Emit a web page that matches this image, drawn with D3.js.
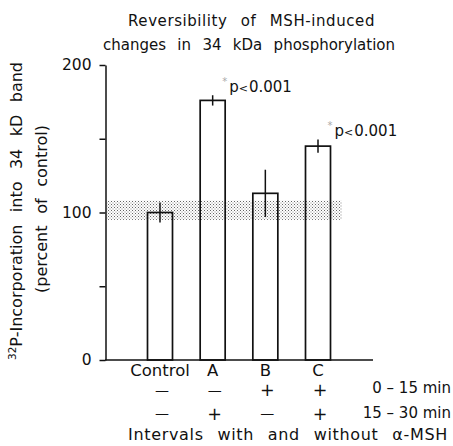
<!DOCTYPE html>
<html>
<head>
<meta charset="utf-8">
<script src="https://cdn.jsdelivr.net/npm/d3@7"></script>
<style>
  body { margin: 0; background: #fff; }
  text { font-family: "DejaVu Sans", "Liberation Sans", sans-serif; fill: #111; }
</style>
</head>
<body>
<div id="chart"></div>
<script>
// Data
const categories = ["Control", "A", "B", "C"];
const means = [100, 176, 113, 145];
const errors = [6.7, 3.5, 16, 4.5];
const controlBand = [95, 108];
const yTicks = [0, 50, 100, 150, 200];
const yTickLabels = ["0", "", "100", "", "200"];
const row1 = ["\u2014", "\u2014", "+", "+"];
const row2 = ["\u2014", "+", "\u2014", "+"];
const rowLabels = ["0 \u2013 15 min", "15 \u2013 30 min"];
const pLabels = [null, "0.001", null, "0.001"];

const width = 453;
const height = 446;

const svg = d3.select("#chart").append("svg")
    .attr("width", width)
    .attr("height", height)
    .attr("viewBox", [0, 0, width, height]);

// widen (or squeeze) a line to the target width: gaps between words first, then letters
function fitWords(sel, target, maxWord = 8) {
    const node = sel.node();
    const natural = node.getComputedTextLength();
    const txt = node.textContent;
    const spaces = (txt.match(/ /g) || []).length;
    let extra = target - natural;
    const ws = spaces ? Math.max(-2, Math.min(maxWord, extra / spaces)) : 0;
    extra -= ws * spaces;
    const ls = extra / txt.length;
    sel.attr("word-spacing", ws).attr("letter-spacing", ls);
    return sel;
}

// stipple pattern for the control range
const defs = svg.append("defs");
const pat = defs.append("pattern")
    .attr("id", "dots")
    .attr("width", 3)
    .attr("height", 3)
    .attr("patternUnits", "userSpaceOnUse");
pat.append("rect").attr("width", 3).attr("height", 3).attr("fill", "#fff");
pat.append("rect").attr("x", 0).attr("y", 0).attr("width", 1).attr("height", 1).attr("fill", "#666");
pat.append("rect").attr("x", 1.5).attr("y", 1.5).attr("width", 1).attr("height", 1).attr("fill", "#888");

// scales
const x = d3.scalePoint().domain(categories).range([160, 318]);
const y = d3.scaleLinear().domain([0, 200]).range([360, 65]);
const barW = 25;

// title
fitWords(svg.append("text")
    .attr("x", 128).attr("y", 26)
    .attr("font-size", 15)
    .text("Reversibility of MSH-induced"), 247);
fitWords(svg.append("text")
    .attr("x", 103).attr("y", 50)
    .attr("font-size", 15)
    .text("changes in 34 kDa phosphorylation"), 292);

// control band
svg.append("rect")
    .attr("x", 107)
    .attr("width", 235)
    .attr("y", y(controlBand[1]))
    .attr("height", y(controlBand[0]) - y(controlBand[1]))
    .attr("fill", "url(#dots)");

// y axis
const yAxis = d3.axisLeft(y)
    .tickValues(yTicks)
    .tickFormat((d, i) => yTickLabels[i])
    .tickSize(6)
    .tickSizeOuter(0)
    .tickPadding(8);

const gy = svg.append("g")
    .attr("transform", "translate(105.5,0)")
    .call(yAxis);
gy.selectAll("path, line").attr("stroke", "#111").attr("stroke-width", 1.5);
gy.selectAll("text").attr("font-size", 15.5).attr("font-family", "DejaVu Sans, sans-serif").attr("fill", "#111");

// baseline
svg.append("line")
    .attr("x1", 105).attr("x2", 373)
    .attr("y1", y(0)).attr("y2", y(0))
    .attr("stroke", "#111").attr("stroke-width", 1.5);

// bars (hollow)
svg.append("g")
    .selectAll("rect")
    .data(categories)
    .join("rect")
    .attr("x", d => x(d) - barW / 2)
    .attr("width", barW)
    .attr("y", (d, i) => y(means[i]))
    .attr("height", (d, i) => y(0) - y(means[i]))
    .attr("fill", "none")
    .attr("stroke", "#111")
    .attr("stroke-width", 1.7);

// error bars
svg.append("g")
    .selectAll("line")
    .data(categories)
    .join("line")
    .attr("x1", d => x(d)).attr("x2", d => x(d))
    .attr("y1", (d, i) => y(means[i] + errors[i]))
    .attr("y2", (d, i) => y(means[i] - errors[i]))
    .attr("stroke", "#111")
    .attr("stroke-width", 1.5);

// significance labels
categories.forEach((c, i) => {
    if (!pLabels[i]) return;
    const lx = x(c) + barW / 2 - 3;
    const ly = y(means[i] + errors[i]) - 3;
    svg.append("text")
        .attr("x", lx).attr("y", ly - 7)
        .attr("font-size", 10).style("fill", "#aaa")
        .text("*");
    const t = svg.append("text")
        .attr("x", lx + 7).attr("y", ly)
        .attr("font-size", 15);
    t.append("tspan").text("p");
    t.append("tspan").attr("font-size", 11).attr("dx", 0).text("<");
    t.append("tspan").attr("dx", 1).text(pLabels[i]);
});

// category labels and treatment rows
svg.append("g")
    .selectAll("text")
    .data(categories)
    .join("text")
    .attr("x", d => x(d))
    .attr("y", 376)
    .attr("text-anchor", "middle")
    .attr("font-size", 16.5)
    .text(d => d);

[row1, row2].forEach((row, r) => {
    svg.append("g")
        .selectAll("text")
        .data(row)
        .join("text")
        .attr("x", (d, i) => x(categories[i]) + 2)
        .attr("y", r === 0 ? 390.5 : 414)
        .attr("dy", d => d === "+" ? "0.32em" : "0.3em")
        .attr("text-anchor", "middle")
        .attr("font-size", d => d === "+" ? 17.5 : 14)
        .text(d => d);
    svg.append("text")
        .attr("x", 451)
        .attr("y", r === 0 ? 393 : 418)
        .attr("text-anchor", "end")
        .attr("font-size", 15)
        .text(rowLabels[r]);
});

// x axis title
fitWords(svg.append("text")
    .attr("x", 128).attr("y", 440)
    .attr("font-size", 16)
    .text("Intervals with and without \u03b1-MSH"), 320);

// y axis title
const yl1 = svg.append("text")
    .attr("transform", "translate(22,360) rotate(-90)")
    .attr("font-size", 16);
yl1.append("tspan").attr("font-size", 10.5).attr("dy", -6).text("32");
yl1.append("tspan").attr("dy", 6).text("P-Incorporation into 34 kD band");
fitWords(yl1, 298);

fitWords(svg.append("text")
    .attr("transform", "translate(47,293) rotate(-90)")
    .attr("font-size", 16)
    .text("(percent of control)"), 168);
</script>
</body>
</html>
